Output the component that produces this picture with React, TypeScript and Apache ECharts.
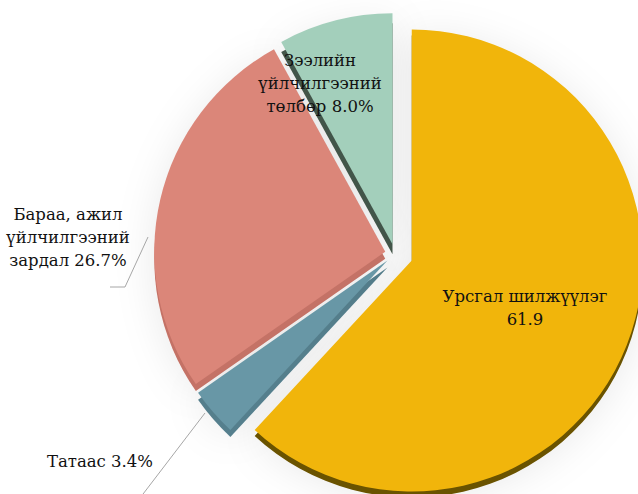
import React, { useEffect, useRef } from 'react';
import * as echarts from 'echarts';

const categories = [
  'Урсгал шилжүүлэг',
  'Татаас',
  'Бараа, ажил үйлчилгээний зардал',
  'Зээлийн үйлчилгээний төлбөр',
];
const values = [61.9, 3.4, 26.7, 8.0];
const labelPrefixes = [
  'Урсгал шилжүүлэг\n',
  'Татаас ',
  'Бараа, ажил\nүйлчилгээний\nзардал ',
  'Зээлийн\nүйлчилгээний\nтөлбөр ',
];
const valueSuffixes = ['', '%', '%', '%'];
const topColors = ['#F1B50B', '#6897A6', '#DB8679', '#A3CFBB'];
const sideColors = ['#6B5300', '#557F8D', '#C47266', '#435548'];

const CX = 395;
const CY = 254;
const R = 231;
const explode = [18, 10, 10, 10];
const depth = [6, 7, 7, 10];

const labelPlacement: { x: number; y: number; lines: number[][] | null }[] = [
  { x: 525, y: 308, lines: null },
  { x: 100, y: 461, lines: [[205, 413], [140, 498]] },
  { x: 68, y: 237, lines: [[148, 237], [125, 287], [110, 287]] },
  { x: 320, y: 83, lines: null },
];

function buildSeries(k: number, isSide: boolean): any {
  return {
    type: 'pie',
    center: [CX, CY + (isSide ? depth[k] : 0)],
    radius: R,
    startAngle: 90,
    clockwise: true,
    selectedMode: 'multiple',
    selectedOffset: explode[k],
    silent: true,
    emphasis: { disabled: true },
    select: { itemStyle: { borderWidth: 0 } },
    label: { show: false },
    labelLine: { show: false },
    z: isSide ? 1 : 2,
    data: categories.map((name, i) => {
      const visible = i === k;
      const itemStyle: any = {
        color: visible ? (isSide ? sideColors[i] : topColors[i]) : 'rgba(0,0,0,0)',
        borderWidth: 0,
      };
      if (visible && isSide) {
        itemStyle.shadowBlur = 40;
        itemStyle.shadowColor = 'rgba(0,0,0,0.09)';
      }
      return {
        name,
        value: values[i],
        selected: true,
        itemStyle,
        select: { itemStyle: { color: itemStyle.color } },
      };
    }),
  };
}

function buildLabels(): any[] {
  const els: any[] = [];
  categories.forEach((_, i) => {
    const p = labelPlacement[i];
    if (p.lines) {
      els.push({
        type: 'polyline',
        z: 10,
        silent: true,
        shape: { points: p.lines },
        style: { stroke: '#A6A6A6', lineWidth: 1, fill: null },
      });
    }
    els.push({
      type: 'text',
      z: 11,
      silent: true,
      x: p.x,
      y: p.y,
      style: {
        text: labelPrefixes[i] + values[i].toFixed(1) + valueSuffixes[i],
        fontFamily: 'DejaVu Serif',
        fontSize: 16.5,
        fill: '#111111',
        align: 'center',
        verticalAlign: 'middle',
        lineHeight: 23,
      },
    });
  });
  return els;
}

export default function App() {
  const ref = useRef<HTMLDivElement>(null);
  useEffect(() => {
    if (!ref.current) return;
    const chart = echarts.init(ref.current, undefined, { renderer: 'svg' });
    const series: any[] = [];
    for (let k = 0; k < values.length; k++) series.push(buildSeries(k, true));
    for (let k = 0; k < values.length; k++) series.push(buildSeries(k, false));
    chart.setOption({
      animation: false,
      backgroundColor: '#ffffff',
      series,
      graphic: { elements: buildLabels() },
    });
    return () => chart.dispose();
  }, []);
  return (
    <div
      ref={ref}
      style={{ position: 'fixed', left: 0, top: 0, width: 638, height: 494 }}
    />
  );
}
